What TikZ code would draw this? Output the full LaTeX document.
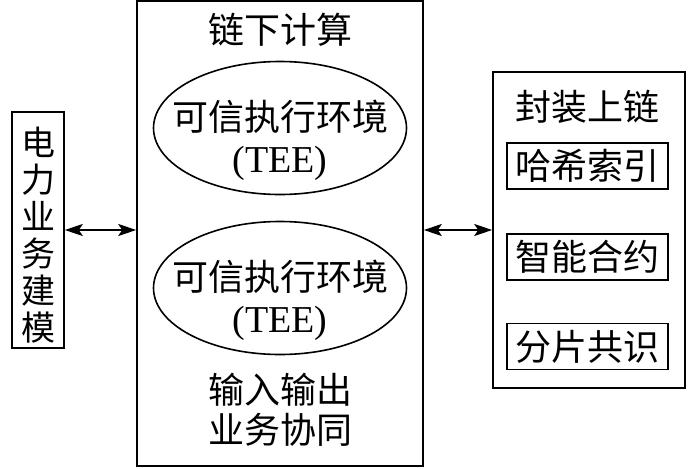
\documentclass[tikz,border=0pt]{standalone}
\usepackage{fontspec}
\setmainfont{Liberation Serif}
\newfontfamily\cjk{Noto Sans CJK SC}
\usetikzlibrary{shapes.geometric,arrows.meta}

\begin{document}
\begin{tikzpicture}[x=1pt,y=-1pt,
    box/.style={draw,line width=1.6pt,inner sep=0pt},
    tee/.style={draw,ellipse,line width=1.6pt,inner sep=0pt,minimum width=253pt,minimum height=133pt},
    txt/.style={font=\cjk\fontsize{36}{42}\selectfont,align=center,inner sep=0pt},
    link/.style={{Stealth[length=18pt,width=12pt,inset=4pt]}-{Stealth[length=18pt,width=12pt,inset=4pt]},line width=1.6pt}]
    \useasboundingbox (0,0) rectangle (700,468);
    % left: business model
    \node[box,minimum width=52pt,minimum height=236pt] (model) at (38,230) {};
    \node[txt,font=\cjk\fontsize{34}{37}\selectfont] (modeltext) at (38,235) {电\\力\\业\\务\\建\\模};
    % middle: off-chain computing
    \node[box,minimum width=286pt,minimum height=465pt] (offchain) at (280,233.5) {};
    \node[txt] (offtitle) at (280,30) {链下计算};
    \node[tee] (tee1) at (280,128) {};
    \node[txt] (tee1text) at (280,140) {可信执行环境\\{\rmfamily\fontsize{38}{42}\selectfont (TEE)}};
    \node[tee] (tee2) at (280,288) {};
    \node[txt] (tee2text) at (280,300) {可信执行环境\\{\rmfamily\fontsize{38}{42}\selectfont (TEE)}};
    \node[txt,font=\cjk\fontsize{36}{40}\selectfont] (io) at (280,410) {输入输出\\业务协同};
    % right: on-chain packaging
    \node[box,minimum width=192pt,minimum height=316pt] (onchain) at (589,230) {};
    \node[txt] (ontitle) at (587,107) {封装上链};
    \node[box,minimum width=161pt,minimum height=46pt,font=\cjk\fontsize{36}{42}\selectfont] (hash) at (587.5,166) {哈希索引};
    \node[box,minimum width=161pt,minimum height=46pt,font=\cjk\fontsize{36}{42}\selectfont] (contract) at (587.5,257) {智能合约};
    \node[box,minimum width=161pt,minimum height=46pt,font=\cjk\fontsize{36}{42}\selectfont] (shard) at (587.5,346.5) {分片共识};
    % links
    \draw[link] (model.east) -- (model.east -| offchain.west);
    \draw[link] (offchain.east |- onchain.west) -- (onchain.west);
\end{tikzpicture}
\end{document}
